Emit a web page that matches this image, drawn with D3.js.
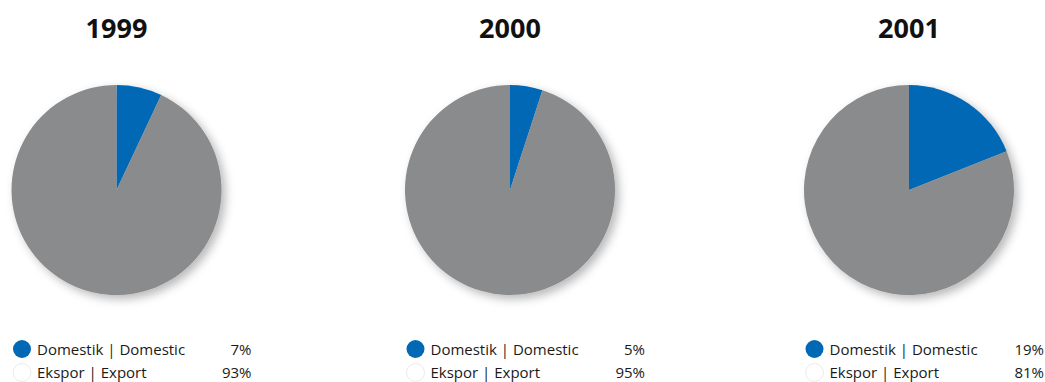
<!DOCTYPE html>
<html>
<head>
<meta charset="utf-8">
<script src="https://cdn.jsdelivr.net/npm/d3@7"></script>
<style>
  html, body { margin: 0; padding: 0; background: #fff; }
  svg { display: block; }
</style>
</head>
<body>
<svg id="chart" width="1045" height="382"></svg>
<script>
// Share of sales by market, per year
const years = ["1999", "2000", "2001"];
const categories = ["Domestik | Domestic", "Ekspor | Export"];
const domestic = [7, 5, 19];
const exportShare = [93, 95, 81];
const colors = ["#0068b4", "#8a8b8d"];

const svg = d3.select("#chart");

const defs = svg.append("defs");
const shadow = defs.append("filter")
  .attr("id", "pieShadow")
  .attr("x", "-20%").attr("y", "-20%")
  .attr("width", "150%").attr("height", "150%");
shadow.append("feDropShadow")
  .attr("dx", 4).attr("dy", 4)
  .attr("stdDeviation", 5)
  .attr("flood-color", "#000")
  .attr("flood-opacity", 0.28);

// centre of each year's panel
const panelX = d3.scaleOrdinal().domain(years).range([116.5, 510, 909]);
const radius = 105;
const cy = 190;

const pie = d3.pie().sort(null).value(d => d.value);
const arc = d3.arc().innerRadius(0).outerRadius(radius);
const legendFont = "'Open Sans', sans-serif";

years.forEach((year, i) => {
  const cx = panelX(year);
  const data = [
    { name: categories[0], value: domestic[i] },
    { name: categories[1], value: exportShare[i] }
  ];
  const g = svg.append("g");

  g.append("text")
    .attr("x", cx).attr("y", 38)
    .attr("text-anchor", "middle")
    .attr("font-family", "'Open Sans', sans-serif")
    .attr("font-weight", 700)
    .attr("font-size", 27)
    .attr("fill", "#111")
    .text(year);

  const pieG = g.append("g")
    .attr("transform", `translate(${cx},${cy})`)
    .attr("filter", "url(#pieShadow)");
  pieG.selectAll("path")
    .data(pie(data))
    .join("path")
    .attr("d", arc)
    .attr("fill", (d, k) => colors[k]);

  // legend
  const left = cx - 105;
  const right = cx + 135;
  const rowY = d3.scaleOrdinal().domain(categories).range([349, 372.5]);
  const rows = g.selectAll("g.row").data(data).join("g").attr("class", "row");
  rows.append("circle")
    .attr("cx", left + 10.5)
    .attr("cy", d => rowY(d.name))
    .attr("r", 9)
    .attr("fill", (d, k) => k === 0 ? colors[0] : "#fff")
    .attr("stroke", (d, k) => k === 0 ? "none" : "#e4e4e4")
    .attr("stroke-width", 0.8);
  rows.append("text")
    .attr("x", left + 25.5)
    .attr("y", d => rowY(d.name) + 5.5)
    .attr("font-family", legendFont)
    .attr("font-size", 15)
    .attr("fill", "#1a1a1a")
    .text(d => d.name);
  rows.append("text")
    .attr("x", right)
    .attr("y", d => rowY(d.name) + 5.5)
    .attr("text-anchor", "end")
    .attr("font-family", legendFont)
    .attr("font-size", 15)
    .attr("fill", "#1a1a1a")
    .text(d => d.value + "%");
});
</script>
</body>
</html>
